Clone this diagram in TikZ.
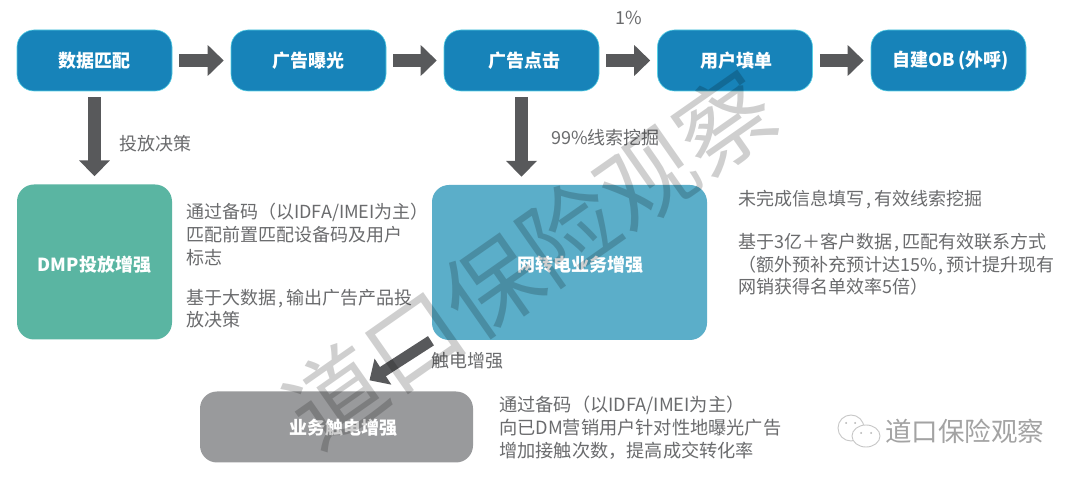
\documentclass[tikz,border=0pt]{standalone}
\usepackage{fontspec}
\setmainfont{Noto Sans CJK SC}
\usetikzlibrary{arrows.meta,calc}
\definecolor{topblue}{HTML}{1783B9}
\definecolor{dmpgreen}{HTML}{5AB5A2}
\definecolor{netblue}{HTML}{5BAEC9}
\definecolor{touchgrey}{HTML}{999A9C}
\definecolor{arrowgrey}{HTML}{58595B}
\definecolor{labelgrey}{HTML}{6A6B6D}
\newcommand{\cma}{\kern2pt,\kern3pt}
\tikzset{
  flowbox/.style={rounded corners=17pt,fill=topblue,draw=topblue!55!cyan!70!white,line width=.6pt,minimum width=155pt,minimum height=61pt,inner sep=0pt,text=white,font=\fontsize{18}{20}\selectfont\bfseries},
  bigbox/.style={rounded corners=17pt,inner sep=0pt,text=white,font=\fontsize{18}{20}\selectfont\bfseries},
  flowarrow/.style={draw=arrowgrey,line width=13pt,-{Triangle[length=16pt,width=30pt]}},
  note/.style={anchor=north west,inner sep=0pt,align=left,text=labelgrey,font=\fontsize{18}{22.8}\selectfont},
  edgelabel/.style={anchor=west,inner sep=0pt,text=labelgrey,font=\fontsize{18}{20}\selectfont},
  mark wm/.style={text=black,opacity=.19,font=\fontsize{95}{97}\selectfont},
  bubble/.style={draw=black!22,line width=.9pt,fill=white},
}
\begin{document}
\begin{tikzpicture}[x=1pt,y=-1pt]
\useasboundingbox (0,0) rectangle (1080,478);
\fill[white] (0,0) rectangle (1080,478);
% top row
\node[flowbox] (a) at (94.5,60.5) {数据匹配};
\node[flowbox] (b) at (308.5,60.5) {广告曝光};
\node[flowbox] (c) at (521.5,60.5) {\hspace*{6pt}广告点击};
\node[flowbox] (d) at (735,60.5) {\hspace*{3pt}用户填单};
\node[flowbox] (e) at (948.5,60.5) {\hspace*{4pt}自建OB\,(外呼)};
% second row
\node[bigbox,fill=dmpgreen,minimum width=155pt,minimum height=155pt,text height=22pt,text depth=2pt] (f) at (94.5,262) {DMP投放增强};
\node[bigbox,fill=netblue,minimum width=275pt,minimum height=155pt,text height=20pt,text depth=2pt] (g) at (569.5,262.5) {\hspace*{21pt}网转电业务增强};
\node[bigbox,fill=touchgrey,minimum width=273pt,minimum height=71pt,text height=18pt,text depth=2pt] (h) at (336.5,427) {\hspace*{13pt}业务触电增强};
% arrows
\draw[flowarrow,shorten <=7pt,shorten >=7pt] (a) -- (b);
\draw[flowarrow,shorten <=7pt,shorten >=7pt] (b) -- (c);
\draw[flowarrow,shorten <=7pt,shorten >=7pt] (c) -- (d);
\draw[flowarrow,shorten <=7pt,shorten >=7pt] (d) -- (e);
\draw[flowarrow,shorten <=6pt,shorten >=8pt] (a.south) -- (f.north);
\draw[flowarrow,shorten <=6pt,shorten >=8pt] (c.south) -- (c.south |- g.north);
\coordinate (tip) at ($(h.north)+(33,-11)$);
\draw[flowarrow,line width=11pt,shorten <=1pt] (g.south west) -- (tip);
% edge labels
\node[edgelabel] (l1) at (615,18) {1\%};
\node[edgelabel] (l2) at (119,144) {投放决策};
\node[edgelabel] (l3) at (551,138) {99\%线索挖掘};
\node[edgelabel] (l4) at (431,361) {触电增强};
% notes
\node[note] (n1) at (186,203) {通过备码（以IDFA/IMEI为主）\\匹配前置匹配设备码及用户\\标志\\[17pt]基于大数据\cma 输出广告产品投\\放决策};
\node[note] (n2) at (738,190) {未完成信息填写\cma 有效线索挖掘\\[20pt]基于3亿＋客户数据\cma 匹配有效联系方式\\（额外预补充预计达15\%\cma 预计提升现有\\网销获得名单效率5倍）};
\node[note,font=\fontsize{18.2}{22.8}\selectfont] (n3) at (499,396) {通过备码（以IDFA/IMEI为主）\\向已DM营销用户针对性地曝光广告\\增加接触次数，提高成交转化率};
% watermark
\node[mark wm,rotate=35] (wm) at (530,259) {道口保险观察};
% wechat mark
\draw[bubble] (851,428) ellipse (13pt and 13pt);
\draw[bubble] (866,436) ellipse (14pt and 11pt);
\foreach \p in {(846,423),(855,423),(861,433),(871,433)} \fill[black!30] \p circle (1pt);
\node[anchor=west,inner sep=0pt,text=black!36,font=\fontsize{26.5}{28}\selectfont] (wx) at (885,431) {道口保险观察};
\end{tikzpicture}
\end{document}
